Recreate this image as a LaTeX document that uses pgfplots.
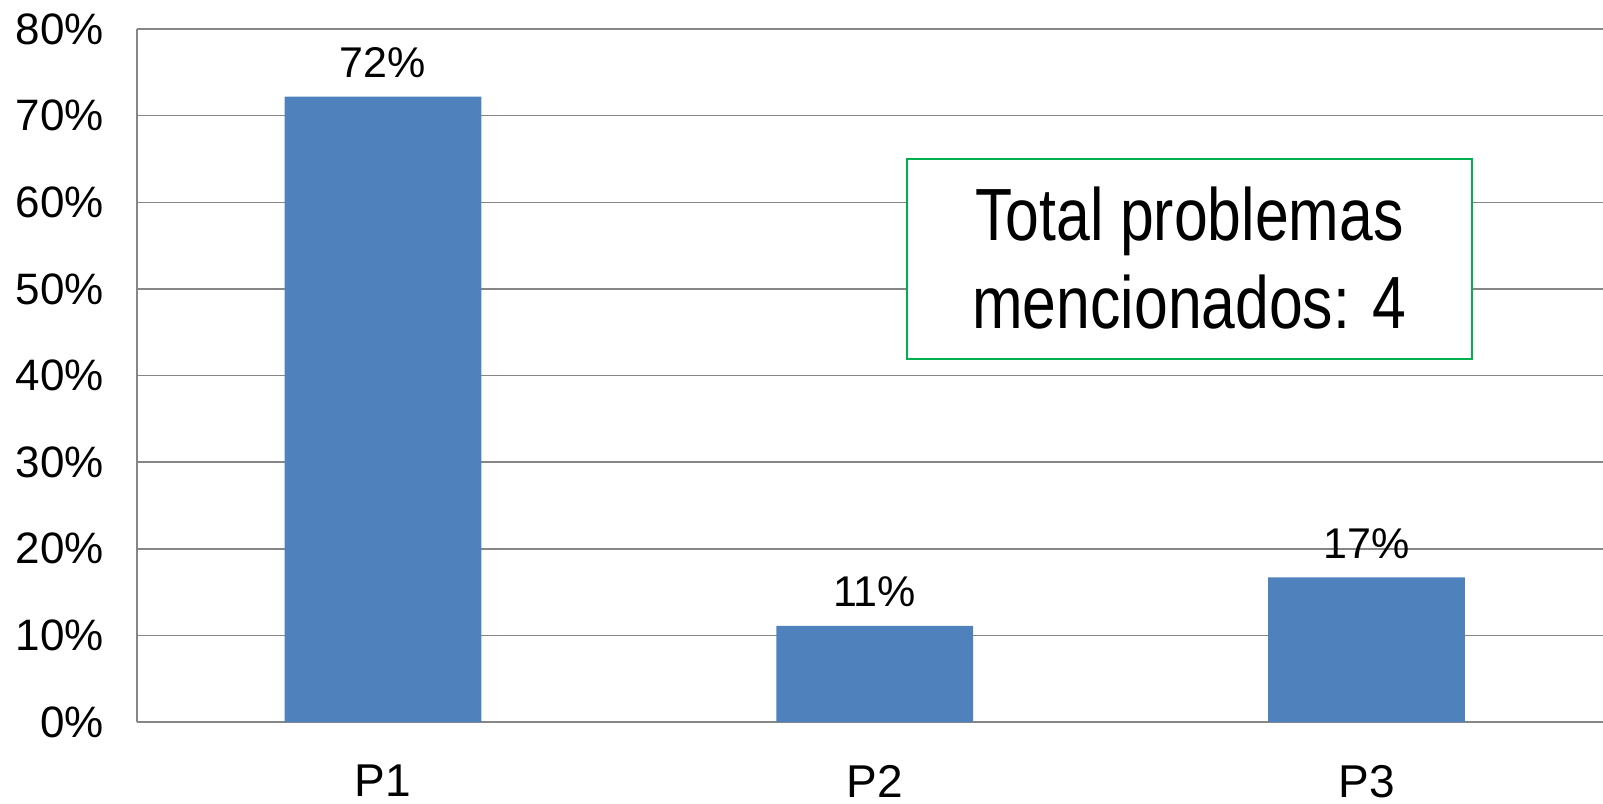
\documentclass[border=0pt]{standalone}
\usepackage{fontspec}
\setmainfont{Liberation Sans}
\newfontfamily\narrowfont[FakeStretch=0.82]{Liberation Sans}
\usepackage{pgfplots}
\pgfplotsset{compat=1.18}
\definecolor{barblue}{HTML}{4F81BD}
\definecolor{gridgray}{HTML}{868686}
\definecolor{boxgreen}{HTML}{00B050}
\begin{document}
\begin{tikzpicture}
\begin{axis}[
  at={(0,0)}, anchor=south west,
  scale only axis, width=737.7pt, height=346.5pt,
  xmin=-0.5, xmax=2.5, ymin=0, ymax=80,
  xtick={0,1,2}, xticklabels={P1,P2,P3},
  ytick={0,10,...,80},
  yticklabel={\pgfmathprintnumber{\tick}\%},
  /pgf/number format/assume math mode=true,
  major tick length=0pt,
  ymajorgrids, grid style={draw=gridgray, line width=0.75pt},
  axis x line*=bottom, axis y line*=left,
  axis line style={-, draw=gridgray, line width=0.75pt},
  yticklabel style={font=\fontsize{22}{26}\selectfont, xshift=-13pt},
  xticklabel style={font=\fontsize{23}{27}\selectfont, yshift=-18pt},
  ybar, bar width=0.4,
  nodes near coords, point meta=explicit symbolic,
  every node near coord/.style={font=\fontsize{21.5}{25}\selectfont, yshift=6pt},
  clip=false,
]
\addplot[fill=barblue, draw=none] table[meta=label] {
x y label
0 72.2 72\%
1 11.1 11\%
2 16.7 17\%
};
\draw[boxgreen, line width=1pt, fill=white] (axis cs:1.0657,41.9) rectangle (axis cs:2.2145,65.05);
\node[align=center, font=\narrowfont\fontsize{37}{44}\selectfont] at (axis cs:1.640,53.6) {Total problemas\\mencionados: 4};
\end{axis}
\pgfresetboundingbox
\path[use as bounding box] (-68.5pt,-41pt) rectangle (733pt,361pt);
\end{tikzpicture}
\end{document}
